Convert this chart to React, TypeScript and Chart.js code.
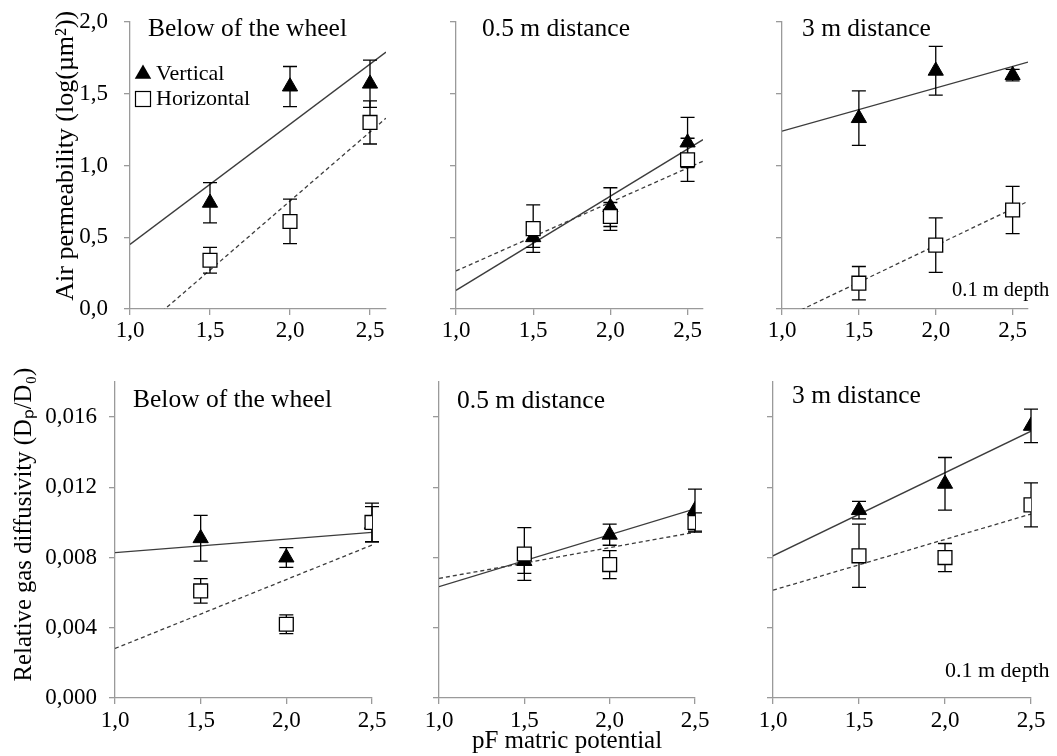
import React, { useEffect, useRef } from 'react';
import { Chart, registerables } from 'chart.js';

Chart.register(...registerables);

// ---------------- data ----------------
const pF = [1.5, 2.0, 2.5];
const xTickValues = [1.0, 1.5, 2.0, 2.5];
const xTickLabels = ['1,0', '1,5', '2,0', '2,5'];
const kaTickValues = [0, 0.5, 1.0, 1.5, 2.0];
const kaTickLabels = ['0,0', '0,5', '1,0', '1,5', '2,0'];
const dTickValues = [0, 0.004, 0.008, 0.012, 0.016];
const dTickLabels = ['0,000', '0,004', '0,008', '0,012', '0,016'];
const panelTitles = ['Below of the wheel', '0.5 m distance', '3 m distance'];
const seriesNames = ['Vertical', 'Horizontal'];
const depthNote = '0.1 m depth';
const kaAxisTitle = 'Air permeability (log(µm²))';
const dAxisTitle = 'Relative gas diffusivity (Dₚ/D₀)';
const xAxisTitle = 'pF matric potential';

// Air permeability (log(µm²))
const kaVerticalWheel = [0.74, 1.55, 1.57];
const kaVerticalWheelErr = [0.14, 0.14, 0.165];
const kaHorizontalWheel = [0.34, 0.61, 1.3];
const kaHorizontalWheelErr = [0.09, 0.155, 0.15];
const kaVertical05 = [0.5, 0.71, 1.16];
const kaVertical05Err = [0.07, 0.135, 0.175];
const kaHorizontal05 = [0.56, 0.645, 1.04];
const kaHorizontal05Err = [0.165, 0.097, 0.15];
const kaVertical3 = [1.33, 1.66, 1.63];
const kaVertical3Err = [0.19, 0.17, 0.04];
const kaHorizontal3 = [0.18, 0.445, 0.69];
const kaHorizontal3Err = [0.116, 0.19, 0.165];

// trend lines (end points)
const kaTrendX = [1.0, 2.6];
const kaTrendVWheel = [0.45, 1.79];
const kaTrendHWheel = [-0.21, 1.33];
const kaTrendV05 = [0.13, 1.18];
const kaTrendH05 = [0.265, 1.03];
const kaTrendV3 = [1.24, 1.72];
const kaTrendH3 = [-0.07, 0.75];

// Relative gas diffusivity (Dp/D0)
const dVerticalWheel = [0.0091, 0.008, 0.0099];
const dVerticalWheelErr = [0.0013, 0.00056, 0.001];
const dHorizontalWheel = [0.0061, 0.0042, 0.01];
const dHorizontalWheelErr = [0.0007, 0.00053, 0.0011];
const dVertical05 = [0.0078, 0.0093, 0.0107];
const dVertical05Err = [0.0007, 0.0006, 0.0012];
const dHorizontal05 = [0.0082, 0.0076, 0.01];
const dHorizontal05Err = [0.0015, 0.0008, 0.00055];
const dVertical3 = [0.0107, 0.0122, 0.0155];
const dVertical3Err = [0.0005, 0.0015, 0.00095];
const dHorizontal3 = [0.0081, 0.008, 0.011];
const dHorizontal3Err = [0.0018, 0.0008, 0.00125];

const dTrendX = [1.0, 2.5];
const dTrendVWheel = [0.00828, 0.00944];
const dTrendHWheel = [0.00282, 0.00871];
const dTrendV05 = [0.00634, 0.01077];
const dTrendH05 = [0.00681, 0.00944];
const dTrendV3 = [0.0081, 0.0152];
const dTrendH3 = [0.00614, 0.01048];

// ---------------- styling ----------------
const FONT = "'Liberation Serif', 'Times New Roman', Times, serif";
const AXIS = '#9a9a9a';
const LINE = '#3c3c3c';
const TICK_SIZE = 23;
const TITLE_SIZE = 25.5;

type Panel = {
  cl: number; ct: number; cw: number; ch: number;
  yw: number; padTop: number; padRight: number; xh: number;
  xMax: number; yMax: number;
  yTicks: number[]; yLabels: string[] | null; yTitle: string | null; yTitlePad: number; yTitleLead: number; yTitleSize: number; yTickPad: number;
  xTitle: string | null; xTickPad: number;
  v: number[]; vErr: number[]; h: number[]; hErr: number[];
  trendX: number[]; trendV: number[]; trendH: number[];
  title: string; titleDx: number; titleDy: number;
  note: boolean; noteDx: number; noteDyFromBottom: number; noteSize: number;
  legend: boolean;
};

const topRow = { ct: 0, padTop: 22, areaH: 287, xh: 45, yMax: 2.0, xMax: 2.6 };
const botRow = { ct: 358, padTop: 24, areaH: 316, xh: 58, yMax: 0.018, xMax: 2.5 };

function mk(row: any, cl: number, yw: number, aw: number, pr: number, extra: any): Panel {
  return {
    cl, ct: row.ct, cw: yw + aw + pr, ch: row.padTop + row.areaH + row.xh,
    yw, padTop: row.padTop, padRight: pr, xh: row.xh, xMax: row.xMax, yMax: row.yMax,
    ...extra,
  };
}

const panels: Panel[] = [
  mk(topRow, 0, 130, 256, 14, {
    yTicks: kaTickValues, yLabels: kaTickLabels, yTitle: kaAxisTitle, yTitlePad: 53, yTitleLead: 3, yTitleSize: 26, yTickPad: 16,
    xTitle: null, xTickPad: 2,
    v: kaVerticalWheel, vErr: kaVerticalWheelErr, h: kaHorizontalWheel, hErr: kaHorizontalWheelErr,
    trendX: kaTrendX, trendV: kaTrendVWheel, trendH: kaTrendHWheel,
    title: panelTitles[0], titleDx: 18, titleDy: 14, note: false, noteDx: 0, noteDyFromBottom: 0, noteSize: 20, legend: true,
  }),
  mk(topRow, 416, 40, 247, 14, {
    yTicks: kaTickValues, yLabels: null, yTitle: null, yTitlePad: 0, yTitleLead: 0, yTitleSize: 26, yTickPad: 16,
    xTitle: null, xTickPad: 2,
    v: kaVertical05, vErr: kaVertical05Err, h: kaHorizontal05, hErr: kaHorizontal05Err,
    trendX: kaTrendX, trendV: kaTrendV05, trendH: kaTrendH05,
    title: panelTitles[1], titleDx: 26, titleDy: 14, note: false, noteDx: 0, noteDyFromBottom: 0, noteSize: 20, legend: false,
  }),
  mk(topRow, 742, 40, 246, 29, {
    yTicks: kaTickValues, yLabels: null, yTitle: null, yTitlePad: 0, yTitleLead: 0, yTitleSize: 26, yTickPad: 16,
    xTitle: null, xTickPad: 2,
    v: kaVertical3, vErr: kaVertical3Err, h: kaHorizontal3, hErr: kaHorizontal3Err,
    trendX: kaTrendX, trendV: kaTrendV3, trendH: kaTrendH3,
    title: panelTitles[2], titleDx: 20, titleDy: 14, note: true, noteDx: 170, noteDyFromBottom: 13, noteSize: 20.5, legend: false,
  }),
  mk(botRow, 0, 115, 257, 20, {
    yTicks: dTickValues, yLabels: dTickLabels, yTitle: dAxisTitle, yTitlePad: 12.5, yTitleLead: 5, yTitleSize: 24.7, yTickPad: 12,
    xTitle: null, xTickPad: 3,
    v: dVerticalWheel, vErr: dVerticalWheelErr, h: dHorizontalWheel, hErr: dHorizontalWheelErr,
    trendX: dTrendX, trendV: dTrendVWheel, trendH: dTrendHWheel,
    title: panelTitles[0], titleDx: 18, titleDy: 25, note: false, noteDx: 0, noteDyFromBottom: 0, noteSize: 22, legend: false,
  }),
  mk(botRow, 399, 40, 256, 20, {
    yTicks: dTickValues, yLabels: null, yTitle: null, yTitlePad: 0, yTitleLead: 0, yTitleSize: 26, yTickPad: 12,
    xTitle: xAxisTitle, xTickPad: 3,
    v: dVertical05, vErr: dVertical05Err, h: dHorizontal05, hErr: dHorizontal05Err,
    trendX: dTrendX, trendV: dTrendV05, trendH: dTrendH05,
    title: panelTitles[1], titleDx: 18, titleDy: 26, note: false, noteDx: 0, noteDyFromBottom: 0, noteSize: 22, legend: false,
  }),
  mk(botRow, 733, 40, 258, 26, {
    yTicks: dTickValues, yLabels: null, yTitle: null, yTitlePad: 0, yTitleLead: 0, yTitleSize: 26, yTickPad: 12,
    xTitle: null, xTickPad: 3,
    v: dVertical3, vErr: dVertical3Err, h: dHorizontal3, hErr: dHorizontal3Err,
    trendX: dTrendX, trendV: dTrendV3, trendH: dTrendH3,
    title: panelTitles[2], titleDx: 19, titleDy: 21, note: true, noteDx: 172, noteDyFromBottom: 21, noteSize: 22, legend: false,
  }),
];

// ---------------- plugins ----------------
const errorBarPlugin = {
  id: 'errorBars',
  beforeDatasetDraw(chart: any, args: any) {
    const ds = chart.data.datasets[args.index];
    if (!ds.errors) return;
    const { ctx } = chart;
    const xs = chart.scales.x;
    const ys = chart.scales.y;
    ctx.save();
    ctx.strokeStyle = '#000';
    ctx.lineWidth = 1.3;
    ds.data.forEach((pt: any, i: number) => {
      const e = ds.errors[i];
      const px = xs.getPixelForValue(pt.x);
      const t = ys.getPixelForValue(pt.y + e);
      const b = ys.getPixelForValue(pt.y - e);
      ctx.beginPath();
      ctx.moveTo(px, t);
      ctx.lineTo(px, b);
      ctx.moveTo(px - 7, t);
      ctx.lineTo(px + 7, t);
      ctx.moveTo(px - 7, b);
      ctx.lineTo(px + 7, b);
      ctx.stroke();
    });
    ctx.restore();
  },
};

const panelTextPlugin = {
  id: 'panelText',
  afterDraw(chart: any, _args: any, opts: any) {
    const { ctx, chartArea } = chart;
    ctx.save();
    ctx.fillStyle = '#000';
    ctx.textAlign = 'left';
    ctx.textBaseline = 'alphabetic';
    if (opts.title) {
      ctx.font = `${TITLE_SIZE}px ${FONT}`;
      ctx.fillText(opts.title, chartArea.left + opts.titleDx, chartArea.top + opts.titleDy);
    }
    if (opts.note) {
      ctx.font = `${opts.noteSize}px ${FONT}`;
      ctx.fillText(depthNote, chartArea.left + opts.noteDx, chartArea.bottom - opts.noteDyFromBottom);
    }
    if (opts.legend) {
      const cx = chartArea.left + 13;
      const y1 = chartArea.top + 52;
      const y2 = chartArea.top + 77;
      const r = 9.5;
      ctx.fillStyle = '#000';
      ctx.beginPath();
      ctx.moveTo(cx, y1 - r);
      ctx.lineTo(cx + 0.866 * r, y1 + 0.5 * r);
      ctx.lineTo(cx - 0.866 * r, y1 + 0.5 * r);
      ctx.closePath();
      ctx.fill();
      ctx.fillStyle = '#fff';
      ctx.strokeStyle = '#000';
      ctx.lineWidth = 1.2;
      ctx.fillRect(cx - 7.5, y2 - 7.5, 15, 15);
      ctx.strokeRect(cx - 7.5, y2 - 7.5, 15, 15);
      ctx.fillStyle = '#000';
      ctx.font = `22px ${FONT}`;
      ctx.textBaseline = 'middle';
      const labels = chart.data.datasets.filter((d: any) => d.errors).map((d: any) => d.label);
      ctx.fillText(labels[0], chartArea.left + 26, y1);
      ctx.fillText(labels[1], chartArea.left + 26, y2);
    }
    ctx.restore();
  },
};

function pts(xs: number[], ys: number[]) {
  return xs.map((x, i) => ({ x, y: ys[i] }));
}

function buildConfig(p: Panel): any {
  return {
    type: 'scatter',
    data: {
      datasets: [
        {
          label: 'Vertical trend', data: pts(p.trendX, p.trendV), showLine: true,
          borderColor: LINE, borderWidth: 1.3, pointRadius: 0, tension: 0, order: 4,
        },
        {
          label: 'Horizontal trend', data: pts(p.trendX, p.trendH), showLine: true,
          borderColor: LINE, borderWidth: 1.3, borderDash: [4, 3], pointRadius: 0, tension: 0, order: 3,
        },
        {
          label: seriesNames[0], data: pts(pF, p.v), errors: p.vErr,
          pointStyle: 'triangle', pointRadius: 8.8, backgroundColor: '#000', borderColor: '#000',
          borderWidth: 1, order: 2,
        },
        {
          label: seriesNames[1], data: pts(pF, p.h), errors: p.hErr,
          pointStyle: 'rect', pointRadius: 9.8, backgroundColor: '#fff', borderColor: '#000',
          borderWidth: 1.3, order: 1,
        },
      ],
    },
    options: {
      responsive: false,
      animation: false,
      events: [],
      layout: { autoPadding: false, padding: { top: p.padTop, right: p.padRight, left: 0, bottom: 0 } },
      plugins: {
        legend: { display: false },
        tooltip: { enabled: false },
        title: { display: false },
        panelText: {
          title: p.title, titleDx: p.titleDx, titleDy: p.titleDy,
          note: p.note, noteDx: p.noteDx, noteDyFromBottom: p.noteDyFromBottom, noteSize: p.noteSize,
          legend: p.legend,
        },
      },
      scales: {
        x: {
          type: 'linear', min: 1.0, max: p.xMax,
          afterBuildTicks: (s: any) => { s.ticks = xTickValues.map((v) => ({ value: v })); },
          afterFit: (s: any) => {
            s.height = p.xh;
            s.paddingLeft = 0; s.paddingRight = 0; s.paddingTop = 0; s.paddingBottom = 0;
          },
          ticks: {
            autoSkip: false, maxRotation: 0, minRotation: 0, padding: p.xTickPad, color: '#000',
            font: { family: FONT, size: TICK_SIZE },
            callback: (_v: any, i: number) => xTickLabels[i],
          },
          grid: { drawOnChartArea: false, drawTicks: true, tickLength: 6, color: AXIS, lineWidth: 1.3 },
          border: { display: true, color: AXIS, width: 1.3 },
          title: p.xTitle
            ? { display: true, text: p.xTitle, color: '#000', font: { family: FONT, size: 25 }, padding: { top: 0, bottom: 0 } }
            : { display: false },
        },
        y: {
          type: 'linear', min: 0, max: p.yMax,
          afterBuildTicks: (s: any) => { s.ticks = p.yTicks.map((v) => ({ value: v })); },
          afterFit: (s: any) => {
            s.width = p.yw;
            s.paddingLeft = 0; s.paddingRight = 0; s.paddingTop = 0; s.paddingBottom = 0;
          },
          ticks: {
            display: !!p.yLabels, autoSkip: false, padding: p.yTickPad, color: '#000',
            font: { family: FONT, size: TICK_SIZE },
            callback: (_v: any, i: number) => (p.yLabels ? p.yLabels[i] : ''),
          },
          grid: { drawOnChartArea: false, drawTicks: true, tickLength: 6, color: AXIS, lineWidth: 1.3 },
          border: { display: true, color: AXIS, width: 1.3 },
          title: p.yTitle
            ? {
                display: true,
                text: ' '.repeat(p.yTitleLead) + p.yTitle,
                color: '#000',
                font: { family: FONT, size: p.yTitleSize, lineHeight: 1 },
                padding: { top: p.yTitlePad, bottom: 0 },
              }
            : { display: false },
        },
      },
    },
    plugins: [errorBarPlugin, panelTextPlugin],
  };
}

export default function App() {
  const refs = useRef<(HTMLCanvasElement | null)[]>([]);

  useEffect(() => {
    const charts = panels.map((p, i) => new Chart(refs.current[i] as HTMLCanvasElement, buildConfig(p)));
    return () => {
      charts.forEach((c) => c.destroy());
    };
  }, []);

  return (
    <div style={{ position: 'absolute', left: 0, top: 0, width: 1057, height: 756, overflow: 'hidden', background: '#fff' }}>
      {panels.map((p, i) => (
        <canvas
          key={i}
          ref={(el) => { refs.current[i] = el; }}
          width={p.cw}
          height={p.ch}
          style={{ position: 'absolute', left: p.cl, top: p.ct, width: p.cw, height: p.ch, display: 'block' }}
        />
      ))}
    </div>
  );
}
